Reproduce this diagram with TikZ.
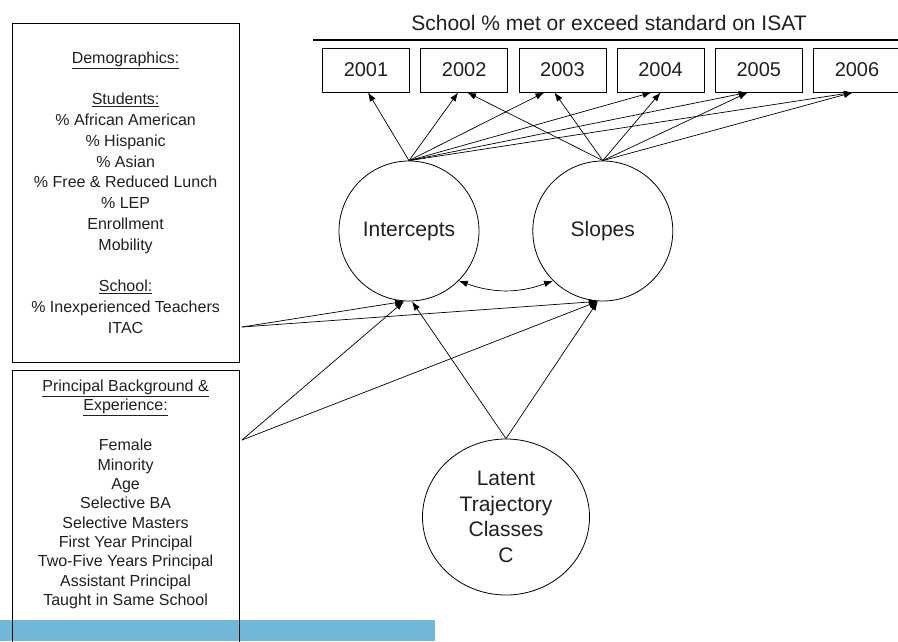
\documentclass[tikz,border=0pt]{standalone}
\usepackage{fontspec}
\setmainfont{Liberation Sans}
\usetikzlibrary{arrows.meta, positioning, shapes.geometric}
\definecolor{inkgray}{HTML}{231F20}
\definecolor{bandblue}{HTML}{70B8D8}
\tikzstyle{yearbox} = [draw, rectangle, minimum width=87pt, minimum height=44pt, inner sep=0pt, font=\fontsize{20}{24}\selectfont]
\tikzstyle{factor} = [draw, circle, minimum size=140pt, inner sep=0pt, font=\fontsize{21}{26}\selectfont]
\tikzstyle{listbox} = [draw, rectangle, minimum width=227pt, anchor=north west]
\tikzstyle{listtext} = [align=center, font=\fontsize{16}{20.8}\selectfont]
\tikzstyle{effect} = [-{Latex[length=9pt,width=6.5pt]}, line width=0.7pt]

\begin{document}
\begin{tikzpicture}[x=1pt, y=-1pt, line width=0.8pt, text=inkgray]
	\useasboundingbox (0,0) rectangle (898,641);
	\clip (0,0) rectangle (898,641);
	\fill[bandblue] (0,620) rectangle (435,641);

	% outcome measures
	\node[font=\fontsize{21}{26}\selectfont] (title) at (609,23) {School \% met or exceed standard on ISAT};
	\draw[line width=2pt] (313,40) -- (898,40);
	\node[yearbox] (y2001) at (366,70) {2001};
	\foreach \y [remember=\y as \p (initially 2001)] in {2002,...,2006}
		\node[yearbox, right=10.4pt of y\p] (y\y) {\y};

	% growth factors
	\node[factor] (int) at (409,231) {Intercepts};
	\node[factor, right=53pt of int] (slo) {Slopes};
	\node[draw, ellipse, minimum width=167pt, minimum height=156pt, inner sep=0pt, align=center,
		font=\fontsize{21}{25.7}\selectfont] (lat) at (506,517) {Latent\\Trajectory\\Classes\\C};

	% covariates
	\node[listbox, minimum height=339pt] (demo) at (11.7,22.7) {};
	\node[listtext] (demotext) at (demo.center) {%
		\underline{Demographics:}\\[20.8pt]
		\underline{Students:}\\
		\% African American\\
		\% Hispanic\\
		\% Asian\\
		\% Free \& Reduced Lunch\\
		\% LEP\\
		Enrollment\\
		Mobility\\[20.8pt]
		\underline{School:}\\
		\% Inexperienced Teachers\\
		ITAC};
	\node[listbox, minimum height=320pt] (prin) at (11.7,370) {};
	\node[listtext, font=\fontsize{16}{19.3}\selectfont, below=6pt of prin.north] (printext) {%
		\underline{Principal Background \&}\\
		\underline{Experience:}\\[21pt]
		Female\\
		Minority\\
		Age\\
		Selective BA\\
		Selective Masters\\
		First Year Principal\\
		Two-Five Years Principal\\
		Assistant Principal\\
		Taught in Same School};
	\coordinate (demoout) at (242,327);
	\coordinate (prinout) at (242,440);

	% loadings
	\draw[effect] (int.north) -- ([xshift=2pt]y2001.south);
	\draw[effect] (int.north) -- ([xshift=-6pt]y2002.south);
	\draw[effect] (int.north) -- ([xshift=-18pt]y2003.south);
	\draw[effect] (int.north) -- ([xshift=-9pt]y2004.south);
	\draw[effect] (int.north) -- ([xshift=-11pt]y2005.south);
	\draw[effect] (int.north) -- ([xshift=-4pt]y2006.south);
	\draw[effect] (slo.north) -- ([xshift=3pt]y2002.south);
	\draw[effect] (slo.north) -- ([xshift=-8pt]y2003.south);
	\draw[effect] (slo.north) -- (y2004.south);
	\draw[effect] (slo.north) -- ([xshift=-11pt]y2005.south);
	\draw[effect] (slo.north) -- ([xshift=-4pt]y2006.south);
	\draw[{Latex[length=9pt,width=6.5pt]}-{Latex[length=9pt,width=6.5pt]}, line width=0.7pt]
		(int.-45) to[bend right=20] (slo.-135);

	% predictors
	\draw[effect] (demoout) -- ([xshift=-5pt]int.south);
	\draw[effect] (demoout) -- ([xshift=-5pt]slo.south);
	\draw[effect] (prinout) -- ([xshift=-5pt]int.south);
	\draw[effect] (prinout) -- ([xshift=-5pt]slo.south);
	\draw[effect] (lat.north) -- ([xshift=3pt]int.south);
	\draw[effect] (lat.north) -- ([xshift=-5pt]slo.south);
\end{tikzpicture}
\end{document}
